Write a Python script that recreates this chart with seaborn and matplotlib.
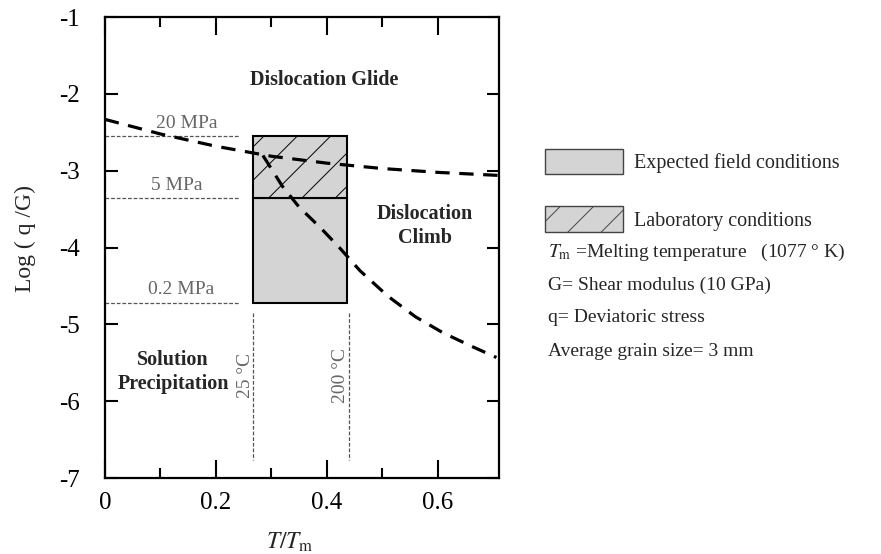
import matplotlib
matplotlib.use("Agg")
import matplotlib.pyplot as plt
import seaborn as sns
from matplotlib.patches import Rectangle, Patch

# boundary between dislocation glide and climb
glide_x = [0.0, 0.1, 0.2, 0.3, 0.4, 0.5, 0.6, 0.71]
glide_y = [-2.33, -2.52, -2.68, -2.81, -2.90, -2.97, -3.02, -3.06]

# boundary between climb and solution precipitation
climb_x = [0.285, 0.32, 0.35, 0.39, 0.423, 0.46, 0.51, 0.56, 0.61, 0.66, 0.706]
climb_y = [-2.80, -3.20, -3.47, -3.75, -4.00, -4.30, -4.63, -4.90, -5.11, -5.28, -5.43]

# stress levels (log q/G) and temperatures (T/Tm)
stress_levels = [-2.55, -3.36, -4.72]
stress_labels = ["20 MPa", "5 MPa", "0.2 MPa"]
stress_label_x = [0.148, 0.13, 0.137]
temp_x = [0.268, 0.44]
temp_labels = ["25 °C", "200 °C"]
box_left, box_right = 0.268, 0.437

notes = [r"$T_\mathrm{m}$ =Melting temperature   (1077 ° K)",
         "G= Shear modulus (10 GPa)",
         "q= Deviatoric stress",
         "Average grain size= 3 mm"]

sns.set_theme(style="ticks")
plt.rcParams['font.family'] = ['Liberation Serif', 'DejaVu Serif']
plt.rcParams['mathtext.fontset'] = 'stix'
plt.rcParams['axes.unicode_minus'] = False
plt.rcParams['hatch.linewidth'] = 0.7

fig = plt.figure(figsize=(8.81, 5.54), dpi=100)
ax = fig.add_axes([0.119, 0.137, 0.447, 0.832])

# field / lab boxes
ax.add_patch(Rectangle((box_left, stress_levels[2]), box_right - box_left,
                       stress_levels[1] - stress_levels[2],
                       facecolor='#d4d4d4', edgecolor='black', lw=1.5, zorder=2))
ax.add_patch(Rectangle((box_left, stress_levels[1]), box_right - box_left,
                       stress_levels[0] - stress_levels[1],
                       facecolor='#d4d4d4', edgecolor='black', hatch='/', lw=1.5, zorder=2))

# mechanism boundaries
sns.lineplot(x=glide_x, y=glide_y, color='black', lw=2.3, linestyle=(0, (4.5, 3)),
             estimator=None, sort=False, ax=ax, zorder=3)
sns.lineplot(x=climb_x, y=climb_y, color='black', lw=2.3, linestyle=(0, (4.5, 3)),
             estimator=None, sort=False, ax=ax, zorder=3)

# stress reference lines
for y, lab, lx in zip(stress_levels, stress_labels, stress_label_x):
    ax.plot([0, 0.243], [y, y], color='#555555', lw=0.9, linestyle=(0, (3, 1.5)))
    ax.text(lx, y + 0.06, lab, color='#666666', fontsize=14, ha='center', va='bottom')

# temperature reference lines
for x, lab in zip(temp_x, temp_labels):
    ax.plot([x, x], [-4.85, -6.77], color='#555555', lw=0.9, linestyle=(0, (3, 1.5)))
    ax.text(x - 0.015, -5.66, lab, color='#666666', fontsize=14, rotation=90,
            ha='center', va='center')

# region labels
ax.text(0.396, -1.82, "Dislocation Glide", fontsize=14.5, fontweight='bold',
        ha='center', va='center')
ax.text(0.577, -3.72, "Dislocation\nClimb", fontsize=14.5, fontweight='bold',
        ha='center', va='center', linespacing=1.3)
ax.text(0.123, -5.62, "Solution\nPrecipitation", fontsize=14.5, fontweight='bold',
        ha='center', va='center', linespacing=1.3)

ax.set_xlim(0, 0.71)
ax.set_ylim(-7, -1)
ax.set_xticks([0, 0.2, 0.4, 0.6])
ax.set_xticklabels(["0", "0.2", "0.4", "0.6"])
ax.set_xticks([0.1, 0.3, 0.5], minor=True)
ax.set_yticks(range(-7, 0))
ax.tick_params(axis='both', which='both', direction='in', top=True, right=True,
               labelsize=18, colors='black', width=1.5)
ax.tick_params(axis='x', which='major', length=13, pad=10)
ax.tick_params(axis='x', which='minor', length=7)
ax.tick_params(axis='y', which='major', length=9, pad=18)
for s in ax.spines.values():
    s.set_linewidth(1.6)
    s.set_color('black')

ax.set_ylabel("Log ( q /G)", fontsize=17)
ax.yaxis.set_label_coords(-0.175, 0.52)
ax.set_xlabel(r"$T/T_\mathrm{m}$", fontsize=17)
ax.xaxis.set_label_coords(0.47, -0.115)

handles = [Patch(facecolor='#d4d4d4', edgecolor='#444444', lw=1.0),
           Patch(facecolor='#d4d4d4', edgecolor='#444444', lw=1.0, hatch='/')]
fig.legend(handles, ["Expected field conditions", "Laboratory conditions"],
           loc='upper left', bbox_to_anchor=(545 / 881, 1 - 149 / 554),
           frameon=False, fontsize=14.5, handlelength=3.85, handleheight=1.55,
           labelspacing=1.6, handletextpad=0.55, borderpad=0, borderaxespad=0)

for i, t in enumerate(notes):
    fig.text(548 / 881, 1 - [252, 285, 317, 352][i] / 554, t, fontsize=14,
             ha='left', va='center')

fig.savefig("out.png", dpi=100)
